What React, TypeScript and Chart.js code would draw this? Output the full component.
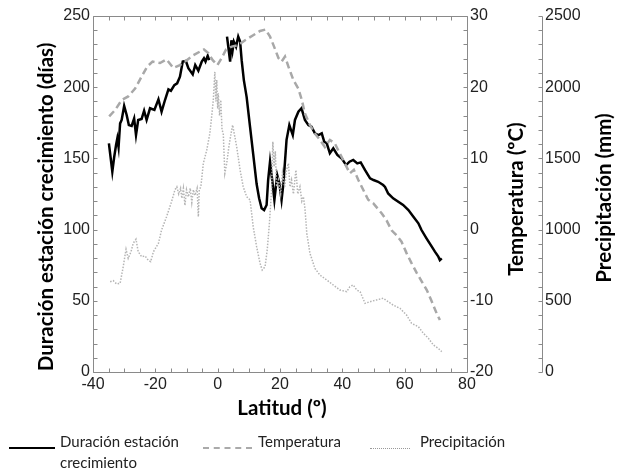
import React, { useEffect, useRef } from 'react';
import { Chart, registerables } from 'chart.js';
Chart.register(...registerables);

// Growing season length (days) vs latitude
const growthLat = [
  -34.9, -33.8, -33.2, -32.6, -32.2, -31.8, -31.3, -30.8, -30.0, -29.2, -28.5, -27.6, -26.8, -26.2, -25.5,
  -24.4, -23.6, -22.8, -21.7, -20.3, -19.0, -18.0, -16.9, -15.8, -15.0, -13.9, -13.0, -12.1, -11.2, -10.2,
  -9.4, -8.0, -7.2, -6.2, -5.1, -4.4, -3.9, -3.2, -2.7, 0.0,
  3.0, 3.6, 4.0, 4.4, 4.8, 5.2, 5.9, 6.6, 7.2, 7.7, 8.4, 9.3, 10.4, 11.4, 12.5, 13.3, 14.1, 14.9, 15.7,
  16.2, 16.8, 17.5, 18.2, 19.1, 19.8, 20.5, 21.1, 22.1, 23.0, 24.1, 24.8, 25.9, 26.9, 28.0, 29.1, 30.1,
  31.2, 32.3, 33.4, 34.2, 35.0, 36.0, 37.1, 38.4, 39.8, 41.2, 42.3, 43.5, 44.8, 45.9, 47.3, 48.9, 50.0,
  51.5, 53.1, 53.7, 54.7, 56.3, 59.5, 61.2, 62.8, 64.4, 65.4, 67.0, 68.7, 69.7, 70.8, 71.3, 71.9,
];
const growthDays = [
  160.6, 140.7, 151, 159.4, 164, 158, 174.6, 177, 186.8, 180.5, 173.4, 172.8, 178, 166.4, 177,
  177.7, 183.5, 177, 185.2, 184, 191.5, 182.8, 191, 198.5, 197.5, 201.5, 202.7, 207.4, 218, 218.4,
  213.3, 209, 215.6, 211.6, 218, 220.3, 218, 222, 219, null,
  235.5, 225, 218, 233, 226, 232, 228.5, 235.5, 232, 219, 205, 193, 172, 153, 132, 122, 115, 113.7, 117.3,
  135, 147.7, 134.8, 120.8, 138.3, 132.5, 120.8, 132.5, 163, 173.4, 166.4, 177, 182.8, 185.2, 177, 173.4, 172.3,
  167.6, 166.4, 167.6, 161.7, 160.6, 153.6, 157.1, 152.4, 150, 145.3, 147.7, 148.9, 146.5, 147.2, 141.8, 136, 134.8,
  133.6, 131.3, 130, 125.4, 122, 117.3, 113.7, 109, 104.4, 99.7, 93.9, 88, 84.5, 81, 78.6, 79.8,
];

// Temperature (ºC) vs latitude
const tempLat = [
  -34.8, -32.9, -30.8, -28.7, -26.5, -24.4, -22.6, -20.9, -18.5, -16.4, -14.2, -12.1, -9.9, -7.8, -5.7,
  -4.4, -3.0, -1.6, -0.1, 1.3, 2.7, 4.5, 6.6, 8.8, 11.4, 13.6, 15.4, 16.8, 18.1, 19.5, 20.5, 21.6, 22.7,
  24.3, 25.9, 27.0, 28.0, 29.6, 31.2, 32.8, 34.4, 36.0, 37.6, 39.2, 40.8, 42.4, 43.7, 45.1, 46.7, 48.3,
  49.9, 52.6, 54.2, 55.8, 57.4, 59.0, 60.6, 62.2, 63.9, 65.5, 67.1, 68.7, 70.3, 71.3,
];
const tempC = [
  15.9, 16.8, 18.2, 18.7, 19.8, 21.5, 22.9, 23.6, 23.4, 23.9, 22.7, 23.1, 23.8, 24.5, 25.0,
  25.3, 24.8, 23.8, 23.1, 24.1, 25.3, 25.7, 25.9, 26.6, 27.3, 27.9, 28.1, 27.1, 25.7, 24.1, 23.6, 24.3, 22.9,
  21.0, 19.8, 18.2, 16.3, 14.7, 13.5, 12.6, 11.6, 12.6, 12.1, 10.7, 9.3, 7.9, 8.4, 7.0, 5.6, 4.2,
  3.7, 2.3, 1.3, -0.1, -0.8, -1.7, -3.3, -4.7, -6.1, -7.3, -8.5, -10.1, -11.8, -12.7,
];

// Precipitation (mm) vs latitude
const precipLat = [
  -34.5, -33.5, -32.4, -31.3, -30.3, -29.4, -28.7, -27.8, -27.1, -26.2, -25.5, -24.4, -23.3, -22.3, -21.5,
  -20.6, -19.0, -18.0, -16.4, -14.8, -13.7, -13.1, -12.5, -11.9, -11.5, -11.0, -10.5, -10.0, -9.4, -8.8,
  -8.3, -7.8, -7.3, -6.6, -6.2, -5.9, -5.4, -4.6, -3.5, -2.5, -1.9, -1.4, -0.9, -0.6, -0.3, 0.0, 0.2, 0.6,
  1.0, 1.4, 1.8, 2.3, 2.9, 3.6, 4.3, 4.8, 5.3, 6.1, 7.2, 8.2, 9.3, 10.4, 11.4, 12.5, 13.6, 14.3, 15.2,
  15.9, 16.6, 17.3, 17.7, 18.1, 18.5, 18.9, 19.5, 20.2, 20.8, 21.5, 22.1, 22.7, 23.2, 23.7, 24.3, 25.1,
  25.7, 26.4, 27.0, 27.5, 28.0, 28.6, 29.6, 31.2, 32.8, 35.0, 37.1, 39.2, 41.4, 42.4, 43.5, 44.6, 45.7,
  47.3, 48.9, 51.0, 53.1, 54.7, 56.3, 58.5, 60.6, 62.2, 64.4, 66.0, 67.6, 69.2, 70.8, 71.9,
];
const precipMm = [
  634, 641, 618, 623, 740, 862, 798, 845, 904, 932, 845, 810, 815, 786, 775,
  845, 904, 997, 1090, 1196, 1280, 1300, 1250, 1290, 1220, 1290, 1170, 1280, 1230, 1290,
  1190, 1280, 1240, 1290, 1090, 1280, 1300, 1465, 1559, 1676, 1800, 1910, 2109, 1900, 2050, 1850, 1957, 1800,
  1910, 1700, 1676, 1395, 1465, 1582, 1676, 1734, 1676, 1582, 1418, 1301, 1231, 1208, 1020, 880, 763, 716, 739,
  857, 1044, 1278, 1617, 1442, 1550, 1301, 1350, 1250, 1400, 1300, 1420, 1465, 1300, 1348, 1250, 1418,
  1250, 1301, 1200, 1231, 1150, 974, 834, 728, 681, 646, 611, 576, 564, 599, 611, 576, 564,
  482, 494, 506, 518, 494, 470, 447, 400, 342, 318, 272, 237, 190, 166, 143,
];

const tickFont = { family: 'Liberation Sans', size: 16 };
const tickColor = '#222';
const axisColor = '#8a8a8a';
const titleFont = 'bold 20.5px Lato';

const framePlugin = {
  id: 'frameTicks',
  afterDraw(chart: any) {
    const { ctx, chartArea, scales } = chart;
    const { left, right, top, bottom } = chartArea;
    const L = Math.round(left) + 0.5;
    const R = Math.round(right) + 0.5;
    const T = Math.round(top) + 0.5;
    const B = Math.round(bottom) + 0.5;
    const P = Math.round(scales.yP.left) + 0.5;
    const tl = 4;
    ctx.save();
    ctx.strokeStyle = axisColor;
    ctx.lineWidth = 1;
    ctx.beginPath();
    ctx.moveTo(L, T); ctx.lineTo(R, T); ctx.lineTo(R, B); ctx.lineTo(L, B); ctx.closePath();
    ctx.moveTo(P, T); ctx.lineTo(P, B);
    for (let v = -40; v <= 80; v += 5) {
      const px = Math.round(scales.x.getPixelForValue(v)) + 0.5;
      ctx.moveTo(px, B); ctx.lineTo(px, B - tl);
      ctx.moveTo(px, T); ctx.lineTo(px, T + tl);
    }
    for (let v = 0; v <= 250; v += 10) {
      const py = Math.round(scales.y.getPixelForValue(v)) + 0.5;
      ctx.moveTo(L, py); ctx.lineTo(L + tl, py);
    }
    for (let v = -20; v <= 30; v += 2) {
      const py = Math.round(scales.yT.getPixelForValue(v)) + 0.5;
      ctx.moveTo(R, py); ctx.lineTo(R - tl, py);
    }
    for (let v = 0; v <= 2500; v += 100) {
      const py = Math.round(scales.yP.getPixelForValue(v)) + 0.5;
      ctx.moveTo(P, py); ctx.lineTo(P - tl, py);
    }
    ctx.stroke();

    ctx.fillStyle = '#000';
    ctx.font = titleFont;
    ctx.textAlign = 'center';
    ctx.textBaseline = 'middle';
    const vText = (txt: string, x: number, y: number) => {
      ctx.save();
      ctx.translate(x, y);
      ctx.rotate(-Math.PI / 2);
      ctx.fillText(txt, 0, 0);
      ctx.restore();
    };
    vText('Duración estación crecimiento (días)', 46, 207);
    vText('Temperatura (ºC)', 516, 199);
    vText('Precipitación (mm)', 604, 198);
    ctx.fillText('Latitud (º)', 282, 408);
    ctx.restore();
  },
};

export default function App() {
  const ref = useRef<HTMLCanvasElement>(null);
  useEffect(() => {
    const pts = (xs: number[], ys: (number | null)[]) => xs.map((x, i) => ({ x, y: ys[i] }));
    const baseScale = (extra: any) => ({
      grid: { display: false, drawTicks: false },
      border: { display: false },
      ticks: { font: tickFont, color: tickColor, padding: 3, callback: (v: any) => String(v), ...extra.ticks },
      ...extra.rest,
    });
    const chart = new Chart(ref.current as HTMLCanvasElement, {
      type: 'line',
      data: {
        datasets: [
          {
            label: 'Precipitación',
            data: pts(precipLat, precipMm) as any,
            yAxisID: 'yP',
            borderColor: '#b4b4b4',
            borderWidth: 1.5,
            borderDash: [1.5, 1.5],
            pointRadius: 0,
            tension: 0,
          },
          {
            label: 'Temperatura',
            data: pts(tempLat, tempC) as any,
            yAxisID: 'yT',
            borderColor: '#a8a8a8',
            borderWidth: 2.5,
            borderDash: [7, 4],
            pointRadius: 0,
            tension: 0,
          },
          {
            label: 'Duración estación crecimiento',
            data: pts(growthLat, growthDays) as any,
            yAxisID: 'y',
            borderColor: '#000',
            borderWidth: 2.5,
            pointRadius: 0,
            tension: 0,
            spanGaps: false,
          },
        ],
      },
      options: {
        responsive: false,
        animation: false,
        devicePixelRatio: 1,
        layout: { padding: { top: 16, left: 0, right: 0, bottom: 0 } },
        plugins: { legend: { display: false }, tooltip: { enabled: false } },
        scales: {
          x: baseScale({
            ticks: { stepSize: 20 },
            rest: { type: 'linear', position: 'bottom', min: -40, max: 80, afterFit: (s: any) => { s.height = 100; } },
          }),
          y: baseScale({
            ticks: { stepSize: 50 },
            rest: { type: 'linear', position: 'left', min: 0, max: 250, afterFit: (s: any) => { s.width = 93; } },
          }),
          yT: baseScale({
            ticks: { stepSize: 10 },
            rest: { type: 'linear', position: 'right', min: -20, max: 30, afterFit: (s: any) => { s.width = 75; } },
          }),
          yP: baseScale({
            ticks: { stepSize: 500 },
            rest: { type: 'linear', position: 'right', min: 0, max: 2500, afterFit: (s: any) => { s.width = 80; } },
          }),
        } as any,
      },
      plugins: [framePlugin],
    });
    return () => chart.destroy();
  }, []);

  const legendText: React.CSSProperties = {
    position: 'absolute',
    fontFamily: 'Lato, "Open Sans", sans-serif',
    fontSize: 15,
    color: '#222',
    lineHeight: '21px',
    whiteSpace: 'nowrap',
  };
  return (
    <div style={{ position: 'absolute', left: 0, top: 0, width: 622, height: 472, background: '#fff' }}>
      <canvas ref={ref} width={622} height={472} style={{ position: 'absolute', left: 0, top: 0 }} />
      <div style={{ position: 'absolute', left: 9, top: 447, width: 46, borderTop: '2.5px solid #000' }} />
      <div style={{ ...legendText, left: 60, top: 431 }}>Duración estación<br />crecimiento</div>
      <div style={{ position: 'absolute', left: 203, top: 447, width: 49, borderTop: '2px dashed #aaa' }} />
      <div style={{ ...legendText, left: 258, top: 431 }}>Temperatura</div>
      <div style={{ position: 'absolute', left: 370, top: 448, width: 40, borderTop: '1px dotted #999' }} />
      <div style={{ ...legendText, left: 420, top: 431 }}>Precipitación</div>
    </div>
  );
}
